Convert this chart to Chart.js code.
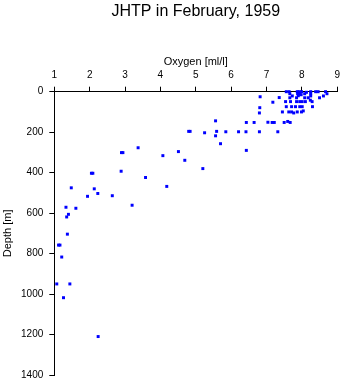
<!DOCTYPE html>
<html>
<head>
<meta charset="utf-8">
<script src="https://cdn.jsdelivr.net/npm/chart.js@4.4.0/dist/chart.umd.min.js"></script>
<style>
  body { margin: 0; background: #fff; }
</style>
</head>
<body>
<canvas id="myChart" width="345" height="384"></canvas>
<script>
// values
const oxygen = [
  // deep water
  1.07, 1.44, 1.26, 2.24, 1.21, 1.12, 1.16, 1.37, 1.35, 1.40,
  1.33, 1.61, 1.48, 1.94, 2.13, 2.23, 2.64, 3.20, 2.05, 2.09,
  2.89, 3.58, 4.18, 2.90, 2.94, 3.37, 4.07, 4.51, 4.69,
  // 150 - 400 m
  4.80, 4.84, 5.20, 5.25, 5.56, 5.59, 5.56, 5.70, 5.85, 6.21,
  6.42, 6.80, 7.32, 6.43, 6.43, 6.65, 7.04, 7.16, 7.22, 7.50,
  7.60, 7.67,
  // upper layer
  6.82, 6.81, 6.80, 7.18, 7.36,
  7.56, 7.64, 7.87, 7.92, 7.99, 8.25, 8.39, 8.46, 8.67, 7.95, 8.13,
  7.66, 7.88, 8.08, 8.25, 8.71, 7.92, 7.98,
  7.73, 8.25, 8.61, 7.90,
  7.66, 7.85, 8.08, 8.18, 8.50,
  8.24,
  7.54, 7.68, 7.85, 7.94, 8.01, 8.10, 8.29,
  7.56, 7.71, 7.82, 7.94, 8.01, 8.30,
  7.45, 7.63, 7.71, 7.77, 7.87, 7.99, 8.04
];
const depth = [
  950, 950, 1018, 1210, 817, 758, 758, 704, 619, 606,
  571, 576, 475, 517, 480, 503, 514, 561, 403, 403,
  393, 424, 468, 301, 301, 277, 316, 296, 339,
  196, 196, 380, 203, 144, 196, 218, 257, 198, 198,
  198, 198, 198, 290, 152, 152, 151, 152, 152, 152,
  147, 152,
  25, 79, 105, 52, 29,
  0, 0, 0, 0, 0, 0, 0, 0, 0, 4, 3,
  10, 10, 10, 10, 10, 13, 15,
  21, 21, 21, 20,
  30, 30, 30, 30, 30,
  42,
  49, 49, 49, 49, 49, 49, 49,
  74, 74, 74, 74, 74, 74,
  100, 100, 100, 105, 100, 100, 95
];
const oxygenTicks = [1, 2, 3, 4, 5, 6, 7, 8, 9];
const depthTicks = [0, 200, 400, 600, 800, 1000, 1200, 1400];

const points = oxygen.map((o, i) => ({ x: o, y: depth[i] }));

var ctx = document.getElementById('myChart').getContext('2d');
var chart = new Chart(ctx, {
    type: 'scatter',
    data: {
        datasets: [{
            data: points,
            pointStyle: 'rect',
            pointRadius: 2.1,
            pointHoverRadius: 2.1,
            borderWidth: 0,
            backgroundColor: '#0000ff',
            clip: false
        }]
    },
    options: {
        responsive: false,
        animation: false,
        layout: { padding: { left: 0, right: 6, top: 0, bottom: 9 } },
        plugins: {
            legend: { display: false },
            tooltip: { enabled: false },
            title: {
                display: true,
                fullSize: false,
                text: 'JHTP in February, 1959',
                color: '#000',
                font: { family: 'Liberation Sans', size: 16, weight: 'normal' },
                padding: { top: 2, bottom: 29 }
            }
        },
        scales: {
            x: {
                type: 'linear',
                position: 'top',
                min: oxygenTicks[0],
                max: oxygenTicks[oxygenTicks.length - 1],
                afterBuildTicks: (s) => { s.ticks = oxygenTicks.map(v => ({ value: v })); },
                afterFit: (s) => { s.height = 41.5; },
                ticks: {
                    color: '#000',
                    font: { family: 'Liberation Sans', size: 10 },
                    padding: 5,
                    maxRotation: 0
                },
                grid: { drawOnChartArea: false, drawTicks: true, tickLength: 5, color: '#000' },
                border: { color: '#000', width: 1 },
                title: {
                    display: true,
                    text: 'Oxygen [ml/l]',
                    color: '#000',
                    font: { family: 'Liberation Sans', size: 11 },
                    padding: { top: 5, bottom: 0 }
                }
            },
            y: {
                type: 'linear',
                reverse: true,
                min: depthTicks[0],
                max: depthTicks[depthTicks.length - 1],
                afterBuildTicks: (s) => { s.ticks = depthTicks.map(v => ({ value: v })); },
                afterFit: (s) => { s.width = 54.3; s.paddingTop = 0; s.paddingBottom = 0; },
                ticks: {
                    color: '#000',
                    font: { family: 'Liberation Sans', size: 10 },
                    padding: 6,
                    callback: (v) => String(v)
                },
                grid: { drawOnChartArea: false, drawTicks: true, tickLength: 5, color: '#000' },
                border: { color: '#000', width: 1 },
                title: {
                    display: true,
                    text: 'Depth [m]',
                    color: '#000',
                    font: { family: 'Liberation Sans', size: 11 },
                    padding: { top: 1, bottom: 0 }
                }
            }
        }
    }
});
</script>
</body>
</html>
